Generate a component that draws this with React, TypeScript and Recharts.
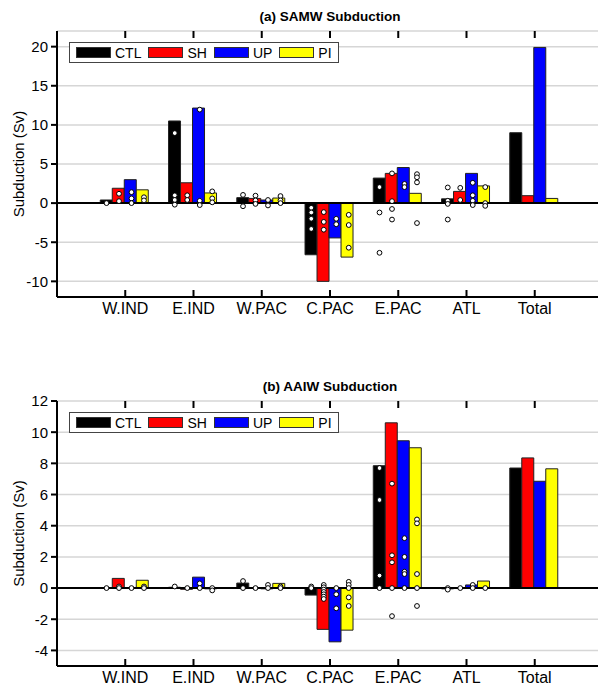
import React from "react";
import { ComposedChart, Bar, Scatter, XAxis, YAxis, CartesianGrid, ReferenceLine, Legend } from "recharts";

const regions = ["W.IND", "E.IND", "W.PAC", "C.PAC", "E.PAC", "ATL", "Total"];
const seriesNames = ["CTL", "SH", "UP", "PI"];
const seriesKeys = ["ctl", "sh", "up", "pi"];
const seriesColors = ["#000000", "#ff0000", "#0000ff", "#ffff00"];

// (a) SAMW subduction, ensemble means (Sv)
const samwCtl = [0.4, 10.5, 0.7, -6.6, 3.2, 0.55, 9.0];
const samwSh = [1.9, 2.6, 0.6, -10.0, 3.8, 1.5, 0.95];
const samwUp = [3.0, 12.15, 0.4, -4.45, 4.55, 3.8, 19.9];
const samwPi = [1.7, 1.3, 0.65, -6.9, 1.25, 2.2, 0.6];

// (a) individual members
const samwCtlDots = [[0], [8.95, 1.0, 0.4, -0.2], [1.05, -0.4], [-0.6, -1.2, -2.0, -3.3], [2.05, -1.2, -6.35], [2.0, 0.3, -0.1, -2.1], []];
const samwShDots = [[1.2, 0.25], [1.0, 0.4], [0.95, 0.35, -0.1], [-1.15, -2.4, -3.4], [3.8, 0.25, -0.75, -2.1], [1.95, 0.4], []];
const samwUpDots = [[1.4, 0.6, 0.0], [11.95, 0.3, -0.25], [0.4, -0.3], [-2.0, -2.7], [2.45, 2.05], [2.6, 1.0, 0.3, -0.25], []];
const samwPiDots = [[0.75, 0.35], [1.5, 0.6, 0.1], [0.9, 0.35, 0.0], [-1.5, -2.8, -5.7], [3.7, 3.3, 2.65, -2.55], [2.05, 0.0, -0.35], []];

// (b) AAIW subduction, ensemble means (Sv)
const aaiwCtl = [0.02, 0.05, 0.32, -0.45, 7.85, -0.05, 7.7];
const aaiwSh = [0.62, -0.08, 0.02, -2.65, 10.6, -0.03, 8.35];
const aaiwUp = [0.02, 0.7, -0.05, -3.45, 9.45, 0.2, 6.85];
const aaiwPi = [0.5, -0.05, 0.3, -2.7, 9.0, 0.45, 7.65];

// (b) individual members
const aaiwCtlDots = [[0], [0.1], [0.45, 0], [0.1, 0], [7.7, 5.65, 0.8, 0], [0, -0.1], []];
const aaiwShDots = [[0.1, 0], [0], [0], [0.2, 0.05, -0.1, -0.25, -0.4, -0.55, -0.7], [6.7, 2.1, 1.65, 0, -1.8], [0], []];
const aaiwUpDots = [[0], [0.3, 0], [0.2, 0], [0, -0.4, -1.3], [3.2, 2.0, 1.05, 0.9, 0], [0.2, 0], []];
const aaiwPiDots = [[0.1, 0], [0, -0.15], [0.1, 0], [0.4, 0.2, 0, -0.6, -1.15], [4.4, 4.15, 0.9, 0, -1.15], [0], []];

const samwTicks = [-10, -5, 0, 5, 10, 15, 20];
const aaiwTicks = [-4, -2, 0, 2, 4, 6, 8, 10, 12];

const GAP = 0.134;
const BAR_UNIT = (1 - 2 * GAP) / 4;
const FONT = '"Liberation Sans", Arial, sans-serif';
const PLOT_W = 546;
const TOP = 31;

const buildRows = (values: number[][]) =>
  regions.map((region, i) => {
    const row: any = { region };
    seriesKeys.forEach((k, s) => (row[k] = values[s][i]));
    return row;
  });

const buildDots = (dots: number[][][]) =>
  dots.flatMap((perRegion, s) =>
    perRegion.flatMap((vals, i) => vals.map((y) => ({ x: i + 1 + (s - 1.5) * BAR_UNIT, y })))
  );

const samwRows = buildRows([samwCtl, samwSh, samwUp, samwPi]);
const samwPoints = buildDots([samwCtlDots, samwShDots, samwUpDots, samwPiDots]);
const aaiwRows = buildRows([aaiwCtl, aaiwSh, aaiwUp, aaiwPi]);
const aaiwPoints = buildDots([aaiwCtlDots, aaiwShDots, aaiwUpDots, aaiwPiDots]);

const LegendBox = () => (
  <div
    style={{
      display: "flex",
      alignItems: "center",
      border: "1px solid #444",
      background: "#fff",
      height: 21,
      width: 270,
      boxSizing: "border-box",
      paddingLeft: 6,
      fontFamily: FONT,
      fontSize: 14,
      color: "#000",
    }}
  >
    {seriesNames.map((name, k) => (
      <div key={name} style={{ display: "flex", alignItems: "center", marginRight: 7 }}>
        <span
          style={{
            display: "inline-block",
            width: 35,
            height: 11,
            background: seriesColors[k],
            border: "1px solid #333",
            boxSizing: "border-box",
            marginRight: 4,
          }}
        />
        <span>{name}</span>
      </div>
    ))}
  </div>
);

const Dot = (props: any) => <circle cx={props.cx} cy={props.cy} r={2.4} fill="#fff" stroke="#000" strokeWidth={1} />;

// inward frame tick marks at each category, placed through the scatter scales
const DownTick = (props: any) => <path d={`M${props.cx - 1},${props.cy} h2 v7 h-2 Z`} fill="#000" stroke="none" />;
const UpTick = (props: any) => <path d={`M${props.cx - 1},${props.cy} h2 v-7 h-2 Z`} fill="#000" stroke="none" />;

interface PanelProps {
  title: string;
  rows: any[];
  points: { x: number; y: number }[];
  domain: [number, number];
  ticks: number[];
  height: number;
  axisHeight: number;
  bottom: number;
}

function Panel({ title, rows, points, domain, ticks, height, axisHeight, bottom }: PanelProps) {
  const pad = PLOT_W / 16;
  const topTicks = regions.map((_, i) => ({ x: i + 1, y: domain[1] }));
  const bottomTicks = regions.map((_, i) => ({ x: i + 1, y: domain[0] }));
  return (
    <div style={{ position: "relative", width: 57 + PLOT_W, height }}>
      <div
        style={{
          position: "absolute",
          left: 57,
          top: 9,
          width: PLOT_W,
          textAlign: "center",
          fontFamily: FONT,
          fontWeight: "bold",
          fontSize: 13.5,
          lineHeight: "16px",
          color: "#000",
          zIndex: 2,
        }}
      >
        {title}
      </div>
      <ComposedChart
        width={57 + PLOT_W}
        height={height}
        data={rows}
        margin={{ top: TOP, right: 0, left: 0, bottom }}
        barCategoryGap={`${GAP * 100}%`}
        barGap={0}
        style={{ fontFamily: FONT }}
      >
        <CartesianGrid vertical={false} stroke="#d6d6d6" strokeWidth={1.5} />
        <XAxis
          xAxisId="cat"
          dataKey="region"
          padding={{ left: pad, right: pad }}
          height={axisHeight}
          axisLine={{ stroke: "#000", strokeWidth: 2 }}
          tickLine={false}
          tickSize={0}
          tickMargin={6}
          tick={{ fill: "#000", fontSize: 16 }}
          interval={0}
        />
        <XAxis
          xAxisId="top"
          orientation="top"
          dataKey="region"
          padding={{ left: pad, right: pad }}
          height={0}
          axisLine={{ stroke: "#000", strokeWidth: 2 }}
          tickLine={false}
          tick={false}
          interval={0}
        />
        <XAxis xAxisId="dots" type="number" dataKey="x" domain={[0, 8]} hide />
        <YAxis
          dataKey="y"
          type="number"
          domain={domain}
          ticks={ticks}
          width={57}
          axisLine={{ stroke: "#000", strokeWidth: 2 }}
          tickLine={{ stroke: "#000", strokeWidth: 2 }}
          tickSize={6}
          tickMargin={3}
          tick={{ fill: "#000", fontSize: 15 }}
          label={{ value: "Subduction (Sv)", angle: -90, position: "center", dx: -10, style: { fontSize: 15, fill: "#000", textAnchor: "middle" } }}
        />
        <Legend
          layout="vertical"
          align="center"
          verticalAlign="middle"
          content={() => <LegendBox />}
          wrapperStyle={{ left: 69, top: 42, width: 270 }}
        />
        {seriesKeys.map((k, s) => (
          <Bar
            key={k}
            xAxisId="cat"
            dataKey={k}
            name={seriesNames[s]}
            fill={seriesColors[s]}
            stroke="#222"
            strokeWidth={1}
            isAnimationActive={false}
          />
        ))}
        <ReferenceLine xAxisId="cat" y={0} stroke="#000" strokeWidth={2} />
        <Scatter xAxisId="dots" data={topTicks} dataKey="y" shape={DownTick} legendType="none" isAnimationActive={false} />
        <Scatter xAxisId="dots" data={bottomTicks} dataKey="y" shape={UpTick} legendType="none" isAnimationActive={false} />
        <Scatter xAxisId="dots" data={points} dataKey="y" shape={Dot} legendType="none" isAnimationActive={false} />
      </ComposedChart>
    </div>
  );
}

export default function App() {
  return (
    <div style={{ position: "absolute", left: 0, top: 0, width: 598, height: 689, overflow: "hidden", background: "#fff" }}>
      <Panel
        title="(a) SAMW Subduction"
        rows={samwRows}
        points={samwPoints}
        domain={[-12, 22]}
        ticks={samwTicks}
        height={370}
        axisHeight={30}
        bottom={43}
      />
      <Panel
        title="(b) AAIW Subduction"
        rows={aaiwRows}
        points={aaiwPoints}
        domain={[-5, 12]}
        ticks={aaiwTicks}
        height={319}
        axisHeight={23}
        bottom={0}
      />
    </div>
  );
}
